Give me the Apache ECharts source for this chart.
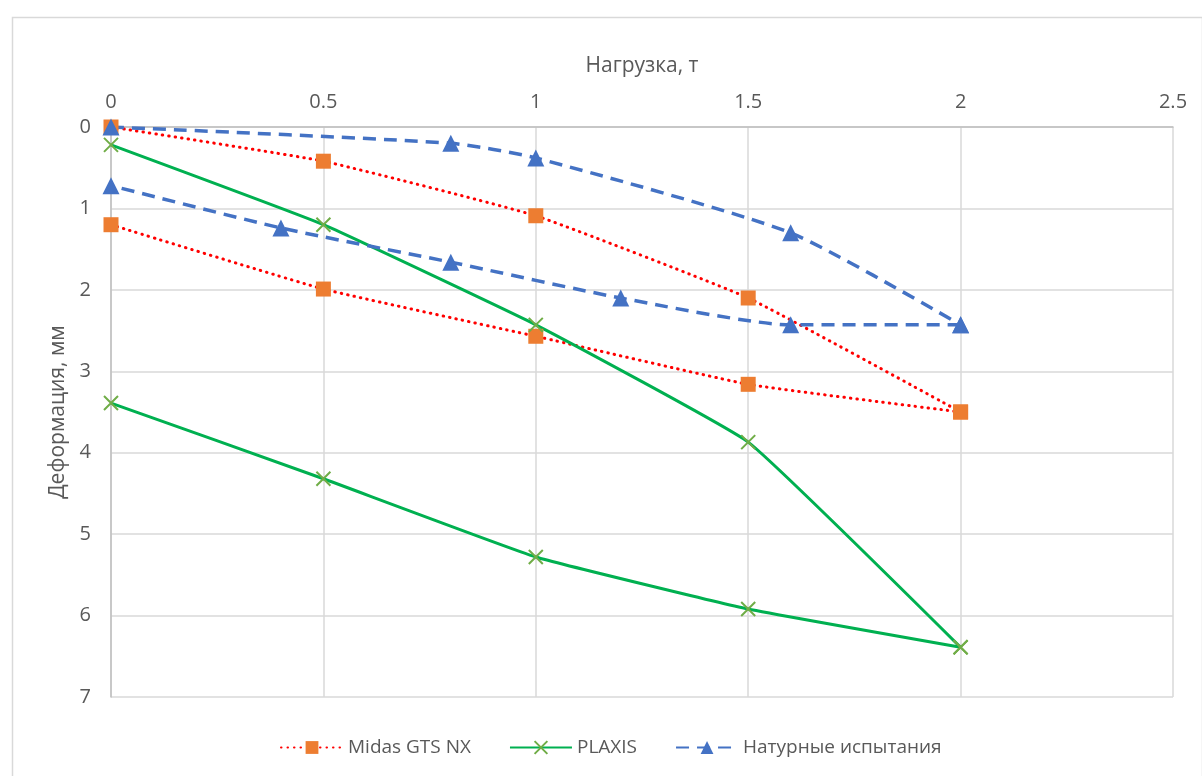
<!DOCTYPE html>
<html>
<head>
<meta charset="utf-8">
<script src="https://cdn.jsdelivr.net/npm/echarts@6/dist/echarts.min.js"></script>
<style>
  html, body { margin: 0; padding: 0; background: #ffffff; }
  #chart { width: 1202px; height: 776px; }
</style>
</head>
<body>
<div id="chart"></div>
<script>
// Load (t) vs deformation (mm): loading and unloading branches for each method
const xTicks = [0, 0.5, 1, 1.5, 2, 2.5];
const yTicks = [0, 1, 2, 3, 4, 5, 6, 7];

const midasLoadX   = [0, 0.5, 1, 1.5, 2];
const midasLoadY   = [0, 0.42, 1.09, 2.10, 3.50];
const midasUnloadX = [2, 1.5, 1, 0.5, 0];
const midasUnloadY = [3.50, 3.16, 2.57, 1.99, 1.20];

const plaxisLoadX   = [0, 0.5, 1, 1.5, 2];
const plaxisLoadY   = [0.22, 1.20, 2.43, 3.87, 6.39];
const plaxisUnloadX = [2, 1.5, 1, 0.5, 0];
const plaxisUnloadY = [6.39, 5.92, 5.28, 4.32, 3.39];

const fieldLoadX   = [0, 0.8, 1, 1.6, 2];
const fieldLoadY   = [0, 0.20, 0.38, 1.30, 2.43];
const fieldUnloadX = [2, 1.6, 1.2, 0.8, 0.4, 0];
const fieldUnloadY = [2.43, 2.43, 2.10, 1.66, 1.24, 0.72];

const names = ['Midas GTS NX', 'PLAXIS', 'Натурные испытания'];

const pairs = (xs, ys) => xs.map((x, i) => [x, ys[i]]);

const FONT = '"Open Sans", "Noto Sans", sans-serif';
const TEXT = '#595959';
const crossPath = 'path://M0,0L10,10M10,0L0,10';

const midasStyle = {
  type: 'line', name: names[0], smooth: 0.12,
  symbol: 'rect', symbolSize: 15,
  lineStyle: { color: '#FF0000', width: 3, type: [0.5, 6], cap: 'round' },
  itemStyle: { color: '#ED7D31' }
};
const plaxisStyle = {
  type: 'line', name: names[1], smooth: 0.1,
  symbol: crossPath, symbolSize: 14,
  lineStyle: { color: '#00B050', width: 3 },
  itemStyle: { color: 'rgba(0,0,0,0)', borderColor: '#70AD47', borderWidth: 2 }
};
const fieldStyle = {
  type: 'line', name: names[2], smooth: 0.2,
  symbol: 'triangle', symbolSize: 17,
  lineStyle: { color: '#4472C4', width: 3.5, type: [13, 8] },
  itemStyle: { color: '#4472C4' }
};

const chart = echarts.init(document.getElementById('chart'));
chart.setOption({
  animation: false,
  backgroundColor: '#ffffff',
  graphic: [{
    type: 'rect', left: 10, top: 15, z: -10,
    shape: { width: 1190, height: 800 },
    style: { fill: 'none', stroke: '#D9D9D9', lineWidth: 1.5 }
  }],
  grid: { left: 111, top: 127, width: 1062, height: 570 },
  legend: {
    data: names,
    left: 275, top: 733,
    itemWidth: 62, itemHeight: 16, itemGap: 38,
    textStyle: { color: TEXT, fontSize: 19, fontFamily: FONT }
  },
  xAxis: {
    type: 'value', position: 'top',
    min: xTicks[0], max: xTicks[xTicks.length - 1], interval: 0.5,
    name: 'Нагрузка, т', nameLocation: 'middle', nameGap: 50,
    nameTextStyle: { color: TEXT, fontSize: 21, fontFamily: FONT },
    axisLine: { show: true, lineStyle: { color: '#BFBFBF', width: 1.5 } },
    axisTick: { show: false },
    axisLabel: { color: TEXT, fontSize: 20, fontFamily: FONT, margin: 15 },
    splitLine: { show: true, lineStyle: { color: '#D9D9D9', width: 1.5 } }
  },
  yAxis: {
    type: 'value', inverse: true,
    min: yTicks[0], max: yTicks[yTicks.length - 1], interval: 1,
    name: 'Деформация, мм', nameLocation: 'middle', nameGap: 42,
    nameTextStyle: { color: TEXT, fontSize: 21, fontFamily: FONT },
    axisLine: { show: true, lineStyle: { color: '#BFBFBF', width: 1.5 } },
    axisTick: { show: false },
    axisLabel: { color: TEXT, fontSize: 20, fontFamily: FONT, margin: 20 },
    splitLine: { show: true, lineStyle: { color: '#D9D9D9', width: 1.5 } }
  },
  series: [
    Object.assign({}, midasStyle, { data: pairs(midasLoadX, midasLoadY) }),
    Object.assign({}, midasStyle, { data: pairs(midasUnloadX, midasUnloadY) }),
    Object.assign({}, plaxisStyle, { data: pairs(plaxisLoadX, plaxisLoadY) }),
    Object.assign({}, plaxisStyle, { data: pairs(plaxisUnloadX, plaxisUnloadY) }),
    Object.assign({}, fieldStyle, { data: pairs(fieldLoadX, fieldLoadY) }),
    Object.assign({}, fieldStyle, { data: pairs(fieldUnloadX, fieldUnloadY) })
  ]
});
</script>
</body>
</html>
